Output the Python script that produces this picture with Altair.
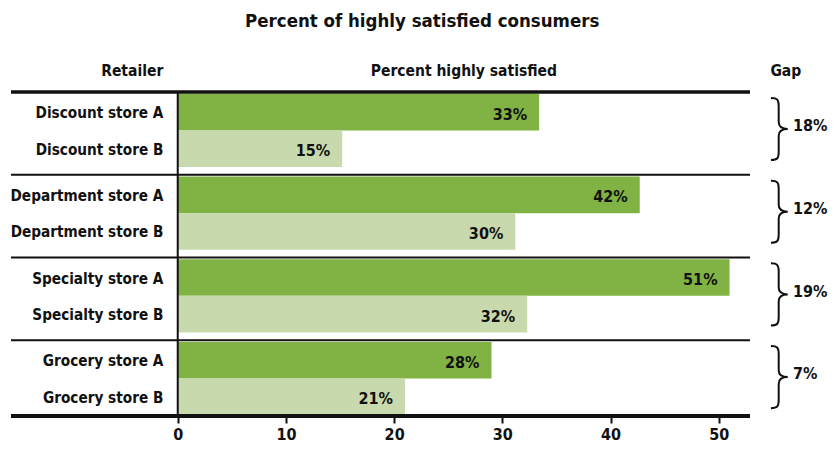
import altair as alt
import pandas as pd

# ---------------- data ----------------
retailers = ["Discount store A", "Discount store B",
             "Department store A", "Department store B",
             "Specialty store A", "Specialty store B",
             "Grocery store A", "Grocery store B"]
store_kind = ["A", "B", "A", "B", "A", "B", "A", "B"]
values = [33.4, 15.2, 42.7, 31.2, 51.0, 32.3, 29.0, 21.0]
value_labels = ["33%", "15%", "42%", "30%", "51%", "32%", "28%", "21%"]
gap_labels = ["18%", "12%", "19%", "7%"]
x_ticks = [0, 10, 20, 30, 40, 50]
header_retailer = "Retailer"
header_percent = "Percent highly satisfied"
header_gap = "Gap"
chart_title = "Percent of highly satisfied consumers"

# ---------------- layout / style ----------------
FONT = "DejaVu Sans Condensed, DejaVu Sans, sans-serif"
DARK = "#80b244"
LIGHT = "#c8d9ad"
INK = "#111111"
X_MIN, X_MAX = -15.41, 52.89
BAR, STEP, TOP = 1.0, 2.2613, 0.05
Y_MAX = 8.857
BRACE_X, GAP_TEXT_X, GAP_HEAD_X = 55.6, 56.86, 56.2
HEAD_Y = -0.44
BRACE_PATH = ("M -0.27,-1 C -0.06,-1 -0.02,-0.94 -0.02,-0.74 L -0.02,-0.22 "
              "C -0.02,-0.07 0.07,0 0.27,0 C 0.07,0 -0.02,0.07 -0.02,0.22 "
              "L -0.02,0.74 C -0.02,0.94 -0.06,1 -0.27,1")

rows = []
for i, name in enumerate(retailers):
    g, k = divmod(i, 2)
    y0 = g * STEP + TOP + k * BAR
    rows.append(dict(retailer=name, kind=store_kind[i], value=values[i],
                     label=value_labels[i], y0=y0, y1=y0 + BAR, ym=y0 + BAR / 2))
bars_df = pd.DataFrame(rows)

gaps_df = pd.DataFrame(dict(gap=gap_labels,
                            gm=[g * STEP + TOP + BAR - 0.04 for g in range(4)]))
lines_df = pd.DataFrame(dict(y=[0, STEP, 2 * STEP, 3 * STEP, Y_MAX],
                             w=[3.5, 2, 2, 2, 4]))
one = pd.DataFrame(dict(a=[0]))

xs = alt.Scale(domain=[X_MIN, X_MAX], nice=False, zero=False)
ys = alt.Scale(domain=[0, Y_MAX], nice=False, zero=False, reverse=True)
xax = alt.Axis(values=x_ticks, title=None, grid=False, domain=False,
               tickSize=7, tickWidth=2, tickColor=INK,
               labelFont=FONT, labelFontSize=16, labelFontWeight="bold",
               labelColor=INK, labelPadding=3)


def X(field=None, datum=None):
    if datum is not None:
        return alt.X(datum=datum, scale=xs, axis=xax)
    return alt.X(field, scale=xs, axis=xax)


def Y(field=None, datum=None):
    if datum is not None:
        return alt.Y(datum=datum, scale=ys, axis=None)
    return alt.Y(field, scale=ys, axis=None)


bars = alt.Chart(bars_df).mark_bar().encode(
    x=X("value:Q"),
    x2=alt.X2(datum=0),
    y=Y("y0:Q"),
    y2="y1:Q",
    color=alt.Color("kind:N", scale=alt.Scale(domain=["A", "B"], range=[DARK, LIGHT]),
                    legend=None),
)

hlines = alt.Chart(lines_df).mark_rule(color=INK).encode(
    x=X(datum=X_MIN),
    x2=alt.X2(datum=X_MAX),
    y=Y("y:Q"),
    strokeWidth=alt.StrokeWidth("w:Q", scale=None),
)

vline = alt.Chart(one).mark_rule(color=INK, strokeWidth=2).encode(
    x=X(datum=0),
    y=Y(datum=0),
    y2=alt.Y2(datum=Y_MAX),
)

store_text = alt.Chart(bars_df).mark_text(
    align="right", baseline="middle", dx=-14.4, dy=1,
    font=FONT, fontSize=15.2, fontWeight="bold", color=INK
).encode(x=X(datum=0), y=Y("ym:Q"), text="retailer:N")

value_text = alt.Chart(bars_df).mark_text(
    align="right", baseline="middle", dx=-12, dy=2.5,
    font=FONT, fontSize=16, fontWeight="bold", color=INK
).encode(x=X("value:Q"), y=Y("ym:Q"), text="label:N")

braces = alt.Chart(gaps_df).mark_point(
    shape=BRACE_PATH, size=3850, filled=False, stroke=INK, strokeWidth=2, opacity=1
).encode(x=X(datum=BRACE_X), y=Y("gm:Q"))

gap_text = alt.Chart(gaps_df).mark_text(
    align="left", baseline="middle", dy=-2.7,
    font=FONT, fontSize=16, fontWeight="bold", color=INK
).encode(x=X(datum=GAP_TEXT_X), y=Y("gm:Q"), text="gap:N")

head_retailer = alt.Chart(one).mark_text(
    align="right", baseline="alphabetic", dx=-14.4,
    font=FONT, fontSize=15.5, fontWeight="bold", color=INK, text=header_retailer
).encode(x=X(datum=0), y=Y(datum=HEAD_Y))

head_percent = alt.Chart(one).mark_text(
    align="center", baseline="alphabetic",
    font=FONT, fontSize=15.5, fontWeight="bold", color=INK, text=header_percent
).encode(x=X(datum=X_MAX / 2), y=Y(datum=HEAD_Y))

head_gap = alt.Chart(one).mark_text(
    align="center", baseline="alphabetic",
    font=FONT, fontSize=15.5, fontWeight="bold", color=INK, text=header_gap
).encode(x=X(datum=GAP_HEAD_X), y=Y(datum=HEAD_Y))

chart = alt.layer(
    bars, hlines, vline, store_text, value_text, braces, gap_text,
    head_retailer, head_percent, head_gap
).properties(
    width=739, height=324,
    autosize=alt.AutoSizeParams(type="none"),
    padding={"left": 3, "top": 84, "right": 78, "bottom": 30},
    background="white",
    title=alt.TitleParams(chart_title, font=FONT, fontSize=18.5, fontWeight="bold",
                          color=INK, anchor="middle", frame="bounds", dx=4, offset=33),
).configure_view(stroke=None)

chart.save("out.html", embed_options={"renderer": "svg", "actions": False})
